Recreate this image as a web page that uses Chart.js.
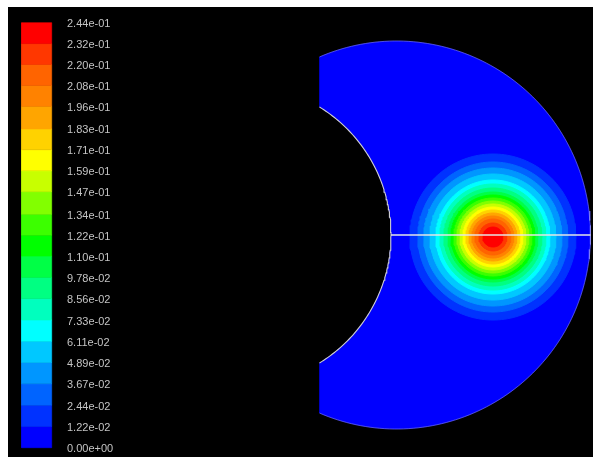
<!DOCTYPE html>
<html>
<head>
<meta charset="utf-8">
<script src="https://cdn.jsdelivr.net/npm/chart.js@4/dist/chart.umd.min.js"></script>
<style>
  html, body { margin: 0; padding: 0; background: #ffffff; width: 593px; height: 457px; overflow: hidden; }
  #c { position: absolute; left: 8px; top: 7px; background: #000000; }
</style>
</head>
<body>
<canvas id="c" width="585" height="450"></canvas>
<script>
// ---- data ----
// colour-bar tick labels, top to bottom
const tickLabels = ["2.44e-01","2.32e-01","2.20e-01","2.08e-01","1.96e-01","1.83e-01","1.71e-01",
  "1.59e-01","1.47e-01","1.34e-01","1.22e-01","1.10e-01","9.78e-02","8.56e-02","7.33e-02",
  "6.11e-02","4.89e-02","3.67e-02","2.44e-02","1.22e-02","0.00e+00"];
// contour level values, bottom (0) to top (max)
const levelValues = [0, 0.0122, 0.0244, 0.0367, 0.0489, 0.0611, 0.0733, 0.0856, 0.0978, 0.110,
  0.122, 0.134, 0.147, 0.159, 0.171, 0.183, 0.196, 0.208, 0.220, 0.232, 0.244];
// radius (model units) of the region whose value exceeds levelValues[k], k = 1..19
const contourRadii = [83, 75, 69, 63, 57, 53, 49, 45, 42, 39, 36, 33, 30, 27, 24, 21, 18, 14, 10];
// centre of the hot spot (model units)
const hotspotCenter = [96.5, -2];
// domain: outer arc radius about origin, inner circle (hole), straight cut line
const outerRadius = 194;
const innerCenterX = -155.8;
const innerRadius = 150.3;
const cutX = -77;

// ---- styles ----
const bandColors = ['#0000ff','#0032ff','#0064ff','#0096ff','#00c8ff','#00ffff','#00ffbe','#00ff82',
  '#00ff46','#00ff00','#3cff00','#82ff00','#c8ff00','#ffff00','#ffd200','#ffa500','#ff8200',
  '#ff6400','#ff3700','#ff0000'];

// ---- geometry helpers (shape outlines built from the values above) ----
function circlePts(cx, cy, r, n) {
  const pts = [];
  for (let i = 0; i <= n; i++) {
    const a = 2 * Math.PI * i / n;
    pts.push({x: cx + r * Math.cos(a), y: cy + r * Math.sin(a)});
  }
  return pts;
}
function outerArcPts() {
  const pts = [];
  const th0 = Math.acos(cutX / outerRadius);
  const n = 160;
  for (let i = 0; i <= n; i++) {
    const a = th0 - 2 * th0 * i / n;
    pts.push({x: outerRadius * Math.cos(a), y: outerRadius * Math.sin(a)});
  }
  return pts;
}
function innerArcPts() {
  const pts = [];
  const ph0 = Math.acos((cutX - innerCenterX) / innerRadius);
  const n = 120;
  for (let i = 0; i <= n; i++) {
    const a = -ph0 + 2 * ph0 * i / n;
    pts.push({x: innerCenterX + innerRadius * Math.cos(a), y: innerRadius * Math.sin(a)});
  }
  return pts;
}
function domainPts() {
  const pts = outerArcPts().concat(innerArcPts());
  pts.push(pts[0]);
  return pts;
}

const datasets = [];
function shapeDS(data, color, order, yAxisID) {
  return {
    data, showLine: true, fill: 'shape', backgroundColor: color,
    borderColor: color, borderWidth: 1, pointRadius: 0, pointHoverRadius: 0,
    tension: 0, order, yAxisID: yAxisID || 'y', clip: false
  };
}
// domain filled with the lowest band
const dom = shapeDS(domainPts(), bandColors[0], 200);
dom.borderWidth = 0.5;
datasets.push(dom);
// contour discs
contourRadii.forEach((r, i) => {
  const k = i + 1;
  datasets.push(shapeDS(circlePts(hotspotCenter[0], hotspotCenter[1], r, 180), bandColors[k], 200 - k));
});
// boundary outlines
datasets.push({ data: innerArcPts(), showLine: true, fill: false, borderColor: '#d0d0d0', borderWidth: 1.1,
  pointRadius: 0, tension: 0, order: 5, clip: false });
datasets.push({ data: outerArcPts(), showLine: true, fill: false, borderColor: 'rgba(170,170,255,0.45)', borderWidth: 1,
  pointRadius: 0, tension: 0, order: 6, clip: false });
// symmetry line
datasets.push({ data: [{x: innerCenterX + innerRadius, y: 0}, {x: outerRadius, y: 0}], showLine: true, fill: false,
  borderColor: '#e6e6e6', borderWidth: 1.6, pointRadius: 0, tension: 0, order: 1, clip: false });
// colour bar bands (drawn on the value axis 'yb')
const barX0 = -374.8, barX1 = -344.8;
for (let i = 0; i < 20; i++) {
  const lo = levelValues[i], hi = levelValues[i + 1];
  const ds = shapeDS([{x: barX0, y: lo}, {x: barX1, y: lo}, {x: barX1, y: hi}, {x: barX0, y: hi}, {x: barX0, y: lo}],
    bandColors[i], 100 - i, 'yb');
  ds.borderWidth = 0.6;
  datasets.push(ds);
}

const labelPlugin = {
  id: 'barLabels',
  afterDatasetsDraw(chart) {
    const ctx = chart.ctx;
    const yb = chart.scales.yb;
    ctx.save();
    ctx.font = '11px "Liberation Sans", Arial, sans-serif';
    ctx.fillStyle = '#c4c4c4';
    ctx.textBaseline = 'middle';
    ctx.textAlign = 'left';
    const n = tickLabels.length;
    tickLabels.forEach((t, i) => {
      const v = levelValues[n - 1 - i];
      ctx.fillText(t, 59, yb.getPixelForValue(v) + 1.5);
    });
    ctx.restore();
  }
};

new Chart(document.getElementById('c'), {
  type: 'scatter',
  data: { datasets },
  options: {
    responsive: false, animation: false, devicePixelRatio: 1,
    layout: { padding: 0 },
    plugins: { legend: { display: false }, tooltip: { enabled: false } },
    events: [],
    scales: {
      x: { type: 'linear', min: -388.5, max: 196.5, display: false },
      y: { type: 'linear', min: -222, max: 228, display: false },
      yb: { type: 'linear', min: -0.005339, max: 0.253014, display: false }
    }
  },
  plugins: [labelPlugin]
});
</script>
</body>
</html>
